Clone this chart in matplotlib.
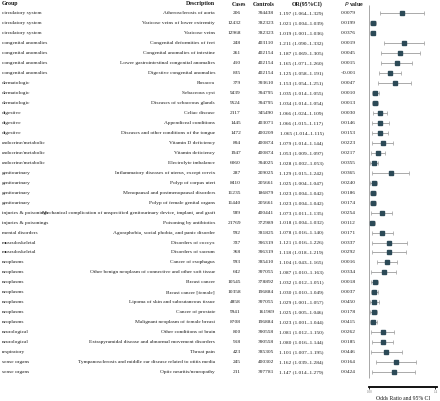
import matplotlib
matplotlib.use("Agg")
import matplotlib.pyplot as plt

plt.rcParams['font.family'] = ['Liberation Serif', 'DejaVu Serif']

# ---------------------------------------------------------------------------
# data
groups = ["circulatory system", "circulatory system", "circulatory system",
          "congenital anomalies", "congenital anomalies", "congenital anomalies", "congenital anomalies",
          "dermatologic", "dermatologic", "dermatologic",
          "digestive", "digestive", "digestive",
          "endocrine/metabolic", "endocrine/metabolic", "endocrine/metabolic",
          "genitourinary", "genitourinary", "genitourinary", "genitourinary",
          "injuries & poisonings", "injuries & poisonings",
          "mental disorders",
          "musculoskeletal", "musculoskeletal",
          "neoplasms", "neoplasms", "neoplasms", "neoplasms", "neoplasms", "neoplasms", "neoplasms",
          "neurological", "neurological",
          "respiratory",
          "sense organs", "sense organs"]

descriptions = ["Atherosclerosis of aorta",
                "Varicose veins of lower extremity",
                "Varicose veins",
                "Congenital deformities of feet",
                "Congenital anomalies of intestine",
                "Lower gastrointestinal congenital anomalies",
                "Digestive congenital anomalies",
                "Rosacea",
                "Sebaceous cyst",
                "Diseases of sebaceous glands",
                "Celiac disease",
                "Appendiceal conditions",
                "Diseases and other conditions of the tongue",
                "Vitamin D deficiency",
                "Vitamin deficiency",
                "Electrolyte imbalance",
                "Inflammatory diseases of uterus, except cervix",
                "Polyp of corpus uteri",
                "Menopausal and postmenopausal disorders",
                "Polyp of female genital organs",
                "Mechanical complication of unspecified genitourinary device, implant, and graft",
                "Poisoning by antibiotics",
                "Agoraphobia, social phobia, and panic disorder",
                "Disorders of coccyx",
                "Disorders of sacrum",
                "Cancer of esophagus",
                "Other benign neoplasm of connective and other soft tissue",
                "Breast cancer",
                "Breast cancer [female]",
                "Lipoma of skin and subcutaneous tissue",
                "Cancer of prostate",
                "Malignant neoplasm of female breast",
                "Other conditions of brain",
                "Extrapyramidal disease and abnormal movement disorders",
                "Throat pain",
                "Tympanosclerosis and middle ear disease related to otitis media",
                "Optic neuritis/neuropathy"]

cases = [206, 12432, 12968, 248, 261, 410, 835, 379, 9439, 9524, 2117, 1445, 1472,
         894, 1947, 6060, 287, 8410, 11235, 11440, 989, 21769, 992, 337, 368, 993,
         642, 10545, 10358, 4858, 9941, 8708, 800, 918, 423, 245, 211]

controls = [394438, 382323, 382323, 403110, 402154, 402154, 402154, 393610, 394795,
            394795, 345490, 403071, 400209, 400874, 400874, 394025, 209025, 205661,
            186879, 205661, 400441, 372989, 381825, 396319, 396319, 385410, 397055,
            378892, 196884, 397055, 161969, 196884, 390558, 390558, 385305, 400302,
            397781]

odds = [1.197, 1.021, 1.019, 1.211, 1.187, 1.165, 1.125, 1.153, 1.035, 1.034, 1.066,
        1.066, 1.065, 1.079, 1.053, 1.028, 1.129, 1.025, 1.023, 1.023, 1.073, 1.018,
        1.078, 1.121, 1.118, 1.104, 1.087, 1.032, 1.030, 1.029, 1.025, 1.023, 1.081,
        1.080, 1.101, 1.162, 1.147]

lower = [1.064, 1.004, 1.001, 1.090, 1.069, 1.071, 1.058, 1.054, 1.014, 1.014, 1.024,
         1.015, 1.014, 1.014, 1.009, 1.002, 1.015, 1.004, 1.004, 1.004, 1.011, 1.004,
         1.016, 1.016, 1.018, 1.043, 1.010, 1.012, 1.010, 1.001, 1.005, 1.001, 1.012,
         1.016, 1.007, 1.039, 1.014]

upper = [1.329, 1.039, 1.036, 1.332, 1.305, 1.260, 1.191, 1.251, 1.055, 1.054, 1.109,
         1.117, 1.115, 1.144, 1.097, 1.053, 1.242, 1.047, 1.042, 1.042, 1.135, 1.032,
         1.140, 1.226, 1.219, 1.165, 1.163, 1.051, 1.049, 1.057, 1.046, 1.044, 1.150,
         1.144, 1.195, 1.284, 1.279]

pvalues = ["0.0079", "0.0199", "0.0376", "0.0019", "0.0045", "0.0015", "<0.001",
           "0.0047", "0.0010", "0.0013", "0.0030", "0.0146", "0.0153", "0.0223",
           "0.0217", "0.0355", "0.0365", "0.0240", "0.0186", "0.0174", "0.0254",
           "0.0112", "0.0171", "0.0337", "0.0292", "0.0016", "0.0334", "0.0018",
           "0.0037", "0.0450", "0.0178", "0.0415", "0.0262", "0.0185", "0.0446",
           "0.0164", "0.0424"]

headers = ["Group", "Description", "Cases", "Controls", "OR(95%CI)", "P value"]

# ---------------------------------------------------------------------------
W, H = 440, 401
fig = plt.figure(figsize=(W / 100, H / 100), dpi=100)
fig.patch.set_facecolor("white")

# table drawn in pixel-like units
tab = fig.add_axes([0, 0, 1, 1])
tab.set_xlim(0, W)
tab.set_ylim(H, 0)
tab.axis("off")

row0, step = 13.2, 9.97
rows = [row0 + step * i for i in range(len(groups))]
fs = 3.9
tc = "#1a1a1a"

hy = 4.0
tab.text(2, hy, headers[0], ha="left", va="center", fontsize=fs + 0.3, fontweight="bold", color=tc)
tab.text(215, hy, headers[1], ha="right", va="center", fontsize=fs + 0.3, fontweight="bold", color=tc)
tab.text(239, hy, headers[2], ha="center", va="center", fontsize=fs + 0.3, fontweight="bold", color=tc)
tab.text(264, hy, headers[3], ha="center", va="center", fontsize=fs + 0.3, fontweight="bold", color=tc)
tab.text(307, hy, headers[4], ha="center", va="center", fontsize=fs + 0.3, fontweight="bold", color=tc)
tab.text(354, hy, r"$\mathit{P}$" + " value", ha="center", va="center", fontsize=fs + 0.3,
         fontweight="bold", color=tc)

for i, y in enumerate(rows):
    tab.text(2, y, groups[i], ha="left", va="center", fontsize=fs, color=tc)
    tab.text(215, y, descriptions[i], ha="right", va="center", fontsize=fs, color=tc)
    tab.text(241, y, str(cases[i]), ha="right", va="center", fontsize=fs, color=tc)
    tab.text(274, y, str(controls[i]), ha="right", va="center", fontsize=fs, color=tc)
    tab.text(301.5, y, "%.3f (%.3f\u2013%.3f)" % (odds[i], lower[i], upper[i]),
             ha="center", va="center", fontsize=fs, color=tc)
    tab.text(348, y, pvalues[i], ha="center", va="center", fontsize=fs, color=tc)

# ---------------------------------------------------------------------------
# forest panel
x0, x1 = 369, 437
ytop, ybot = 3, 387
ax = fig.add_axes([x0 / W, (H - ybot) / H, (x1 - x0) / W, (ybot - ytop) / H])
ax.set_xlim(0.997, 1.41)
ax.set_ylim(ybot, ytop)
ax.patch.set_alpha(0)

ax.vlines(1.0, 5, 378, color="#9a9a9a", lw=0.6)
err = [[o - l for o, l in zip(odds, lower)], [u - o for o, u in zip(odds, upper)]]
ax.errorbar(odds, rows, xerr=err, fmt="s", color="#2c4a57", ms=3.3, mec="#2c4a57",
            ecolor="#9c9c9c", elinewidth=0.6, capsize=1.1, capthick=0.5)

for s in ["top", "right", "left"]:
    ax.spines[s].set_visible(False)
ax.spines["bottom"].set_linewidth(1.3)
ax.set_yticks([])
ax.set_xticks([1.0, 1.4])
ax.set_xticklabels(["1.00", "1.4"], fontsize=2.3, color="#777777")
ax.tick_params(axis="x", length=1.5, width=0.6, pad=0.8)
ax.set_xlabel("Odds Ratio and 95% CI", fontsize=fs + 0.2, labelpad=1.2, color=tc)

fig.savefig("out.png", dpi=100, facecolor="white")
